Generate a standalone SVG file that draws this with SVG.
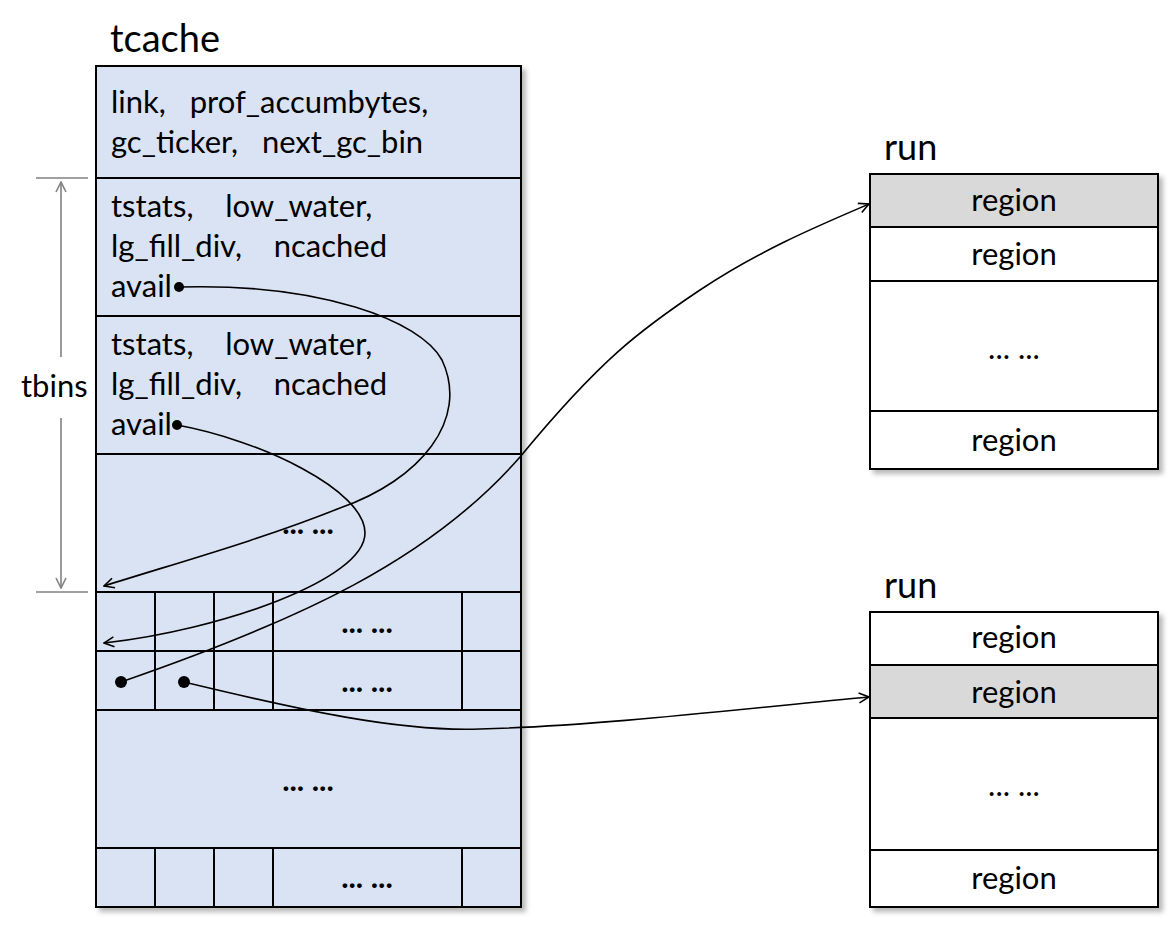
<svg xmlns="http://www.w3.org/2000/svg" width="1172" height="936" viewBox="0 0 1172 936">
<defs>
<filter id="sh" x="-5%" y="-5%" width="115%" height="115%">
<feDropShadow dx="4" dy="4" stdDeviation="2.5" flood-color="#000" flood-opacity="0.28"/>
</filter>
<marker id="ar" viewBox="0 0 12 12" refX="11" refY="6" markerWidth="12" markerHeight="12" markerUnits="userSpaceOnUse" orient="auto">
<path d="M1,1 L11,6 L1,11" fill="none" stroke="#000" stroke-width="1.6"/>
</marker>
<marker id="ag" viewBox="0 0 12 12" refX="11" refY="6" markerWidth="12" markerHeight="12" markerUnits="userSpaceOnUse" orient="auto">
<path d="M1,1 L11,6 L1,11" fill="none" stroke="#808080" stroke-width="1.6"/>
</marker>
</defs>
<style>
text{font-family:Lato,"Liberation Sans",sans-serif;fill:#000;white-space:pre}
.t{font-size:31px}
.h{font-size:38px}
.r{font-size:36px}
.c{text-anchor:middle}
.b{font-weight:bold}
.ln{stroke:#000;stroke-width:2;fill:none}
.cn{stroke:#000;stroke-width:1.6;fill:none}
.dim{stroke:#808080;stroke-width:1.6;fill:none}
</style>
<rect width="1172" height="936" fill="#fff"/>

<g id="tcache">
<text class="h" x="110" y="52">tcache</text>
<rect x="96" y="66" width="425" height="841" fill="#dae3f3" stroke="#000" stroke-width="2" filter="url(#sh)"/>
<g class="ln">
<line x1="96" y1="178" x2="521" y2="178"/>
<line x1="96" y1="316" x2="521" y2="316"/>
<line x1="96" y1="454" x2="521" y2="454"/>
<line x1="96" y1="592" x2="521" y2="592"/>
<line x1="96" y1="651" x2="521" y2="651"/>
<line x1="96" y1="710" x2="521" y2="710"/>
<line x1="96" y1="848" x2="521" y2="848"/>
<line x1="155" y1="592" x2="155" y2="710"/>
<line x1="214" y1="592" x2="214" y2="710"/>
<line x1="273" y1="592" x2="273" y2="710"/>
<line x1="462" y1="592" x2="462" y2="710"/>
<line x1="155" y1="848" x2="155" y2="907"/>
<line x1="214" y1="848" x2="214" y2="907"/>
<line x1="273" y1="848" x2="273" y2="907"/>
<line x1="462" y1="848" x2="462" y2="907"/>
</g>
<text class="t" x="111" y="113">link,   prof_accumbytes,</text>
<text class="t" x="111" y="153">gc_ticker,   next_gc_bin</text>
<text class="t" x="111" y="217">tstats,    low_water,</text>
<text class="t" x="111" y="257">lg_fill_div,    ncached</text>
<text class="t" x="111" y="297">avail</text>
<text class="t" x="111" y="355">tstats,    low_water,</text>
<text class="t" x="111" y="395">lg_fill_div,    ncached</text>
<text class="t" x="111" y="435">avail</text>
<text class="t c b" x="308" y="534">... ...</text>
<text class="t c b" x="367" y="633">... ...</text>
<text class="t c b" x="367" y="692">... ...</text>
<text class="t c b" x="308" y="791">... ...</text>
<text class="t c b" x="367" y="888">... ...</text>
<circle cx="179" cy="287" r="5"/>
<circle cx="177" cy="425" r="5"/>
<circle cx="121" cy="682" r="6"/>
<circle cx="184" cy="682" r="6"/>
</g>

<g id="tbins">
<line class="dim" x1="36" y1="178" x2="88" y2="178"/>
<line class="dim" x1="36" y1="592" x2="88" y2="592"/>
<line class="dim" x1="61" y1="357" x2="61" y2="182" marker-end="url(#ag)"/>
<line class="dim" x1="61" y1="418" x2="61" y2="588" marker-end="url(#ag)"/>
<text class="t" x="21" y="397">tbins</text>
</g>

<g id="run1">
<text class="r" x="884" y="160">run</text>
<rect x="870" y="174" width="288" height="295" fill="#fff" stroke="#000" stroke-width="2" filter="url(#sh)"/>
<rect x="870" y="174" width="288" height="53" fill="#d9d9d9" stroke="#000" stroke-width="2"/>
<line class="ln" x1="870" y1="281" x2="1158" y2="281"/>
<line class="ln" x1="870" y1="411" x2="1158" y2="411"/>
<text class="t c" x="1014" y="211">region</text>
<text class="t c" x="1014" y="265">region</text>
<text class="t c" x="1014" y="359">... ...</text>
<text class="t c" x="1014" y="451">region</text>
</g>

<g id="run2">
<text class="r" x="884" y="598">run</text>
<rect x="870" y="612" width="288" height="295" fill="#fff" stroke="#000" stroke-width="2" filter="url(#sh)"/>
<rect x="870" y="665" width="288" height="53" fill="#d9d9d9" stroke="#000" stroke-width="2"/>
<line class="ln" x1="870" y1="850" x2="1158" y2="850"/>
<text class="t c" x="1014" y="648">region</text>
<text class="t c" x="1014" y="703">region</text>
<text class="t c" x="1014" y="796">... ...</text>
<text class="t c" x="1014" y="889">region</text>
</g>

<g id="connectors">
<path class="cn" d="M179,287 C320,283 420,320 442,360 C470,420 420,480 340,508 C260,540 180,562 104,586" marker-end="url(#ar)"/>
<path class="cn" d="M177,425 C260,440 365,490 365,533 C365,580 220,630 104,643" marker-end="url(#ar)"/>
<path class="cn" d="M121,682 C300,620 430,560 520,457 C600,360 640,330 700,290 C760,250 820,225 869,204" marker-end="url(#ar)"/>
<path class="cn" d="M184,682 C300,710 400,732 480,729 C600,726 750,708 869,697" marker-end="url(#ar)"/>
</g>
</svg>
